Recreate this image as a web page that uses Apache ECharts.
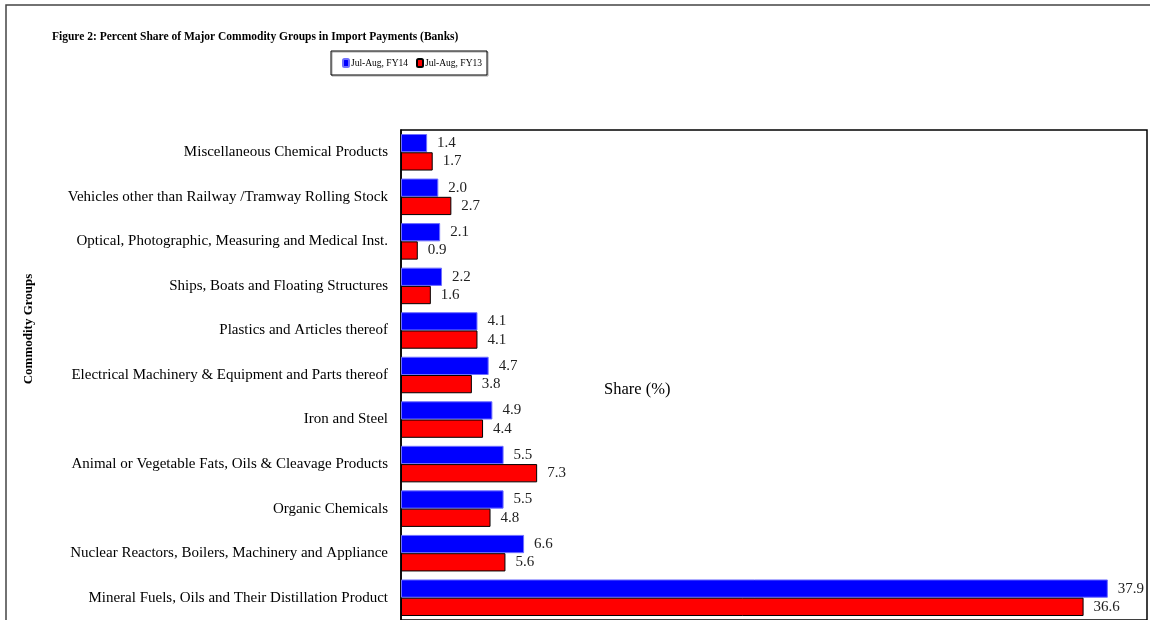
<!DOCTYPE html>
<html>
<head>
<meta charset="utf-8">
<script src="https://cdn.jsdelivr.net/npm/echarts@6/dist/echarts.min.js"></script>
<style>
html,body{margin:0;padding:0;background:#fff;}
#chart{width:1150px;height:620px;}
</style>
</head>
<body>
<div id="chart"></div>
<script>
// Categories listed bottom to top
const categories = [
  'Mineral Fuels, Oils and Their Distillation Product',
  'Nuclear Reactors, Boilers, Machinery and Appliance',
  'Organic Chemicals',
  'Animal or Vegetable Fats, Oils & Cleavage Products',
  'Iron and Steel',
  'Electrical Machinery & Equipment and Parts thereof',
  'Plastics and Articles thereof',
  'Ships, Boats and Floating Structures',
  'Optical, Photographic, Measuring and Medical Inst.',
  'Vehicles other than Railway /Tramway Rolling Stock',
  'Miscellaneous Chemical Products'
];
const fy14 = [37.9, 6.6, 5.5, 5.5, 4.9, 4.7, 4.1, 2.2, 2.1, 2.0, 1.4];
const fy13 = [36.6, 5.6, 4.8, 7.3, 4.4, 3.8, 4.1, 1.6, 0.9, 2.7, 1.7];
const seriesNames = ['Jul-Aug, FY14', 'Jul-Aug, FY13'];

const font = '"Liberation Serif", "Times New Roman", serif';
const chart = echarts.init(document.getElementById('chart'));

chart.setOption({
  animation: false,
  backgroundColor: '#fff',
  title: {
    text: 'Figure 2: Percent Share of Major Commodity Groups in Import Payments (Banks)',
    left: 47, top: 26,
    textStyle: { fontFamily: font, fontSize: 11.5, fontWeight: 'bold', color: '#000' }
  },
  legend: {
    data: seriesNames,
    orient: 'horizontal',
    left: 331, top: 51,
    padding: [7, 5, 7, 11],
    borderColor: '#000', borderWidth: 1,
    itemWidth: 6, itemHeight: 8, itemGap: 8,
    shadowColor: 'rgba(0,0,0,0.35)', shadowOffsetX: 1, shadowOffsetY: 1,
    textStyle: { fontFamily: font, fontSize: 9.5, color: '#000', padding: [0, 0, 0, -3] }
  },
  graphic: [
    { type: 'rect', shape: { x: 6, y: 5, width: 1150, height: 640 }, style: { fill: 'none', stroke: '#444', lineWidth: 1.5 }, silent: true },
    { type: 'text', x: 604, y: 390, style: { text: 'Share (%)', font: '16.5px ' + font, fill: '#000', verticalAlign: 'middle' } },
    { type: 'text', x: 29, y: 329, rotation: Math.PI / 2, style: { text: 'Commodity Groups', font: 'bold 13px ' + font, fill: '#000', align: 'center', verticalAlign: 'middle' } }
  ],
  grid: {
    left: 401, top: 130, right: 3, bottom: -3,
    show: true, borderColor: '#000', borderWidth: 1.5
  },
  xAxis: {
    type: 'value', min: 0, max: 40,
    axisLabel: { show: false }, axisTick: { show: false },
    axisLine: { show: false }, splitLine: { show: false }
  },
  yAxis: {
    type: 'category', data: categories,
    axisLine: { show: true, lineStyle: { color: '#000', width: 1.5 } },
    axisTick: { show: false },
    axisLabel: { fontFamily: font, fontSize: 15, color: '#000', margin: 13 }
  },
  series: [
    {
      name: seriesNames[0], type: 'bar', data: fy14,
      barCategoryGap: '18%', barGap: '0%',
      itemStyle: { color: '#0000ff', borderColor: '#6f6fff', borderWidth: 1 },
      label: { show: true, position: 'right', distance: 10, fontFamily: font, fontSize: 15, color: '#222', formatter: p => p.value.toFixed(1) }
    },
    {
      name: seriesNames[1], type: 'bar', data: fy13,
      barCategoryGap: '18%', barGap: '0%',
      itemStyle: { color: '#ff0000', borderColor: '#000', borderWidth: 1 },
      label: { show: true, position: 'right', distance: 10, fontFamily: font, fontSize: 15, color: '#222', formatter: p => p.value.toFixed(1) }
    }
  ]
});
</script>
</body>
</html>
